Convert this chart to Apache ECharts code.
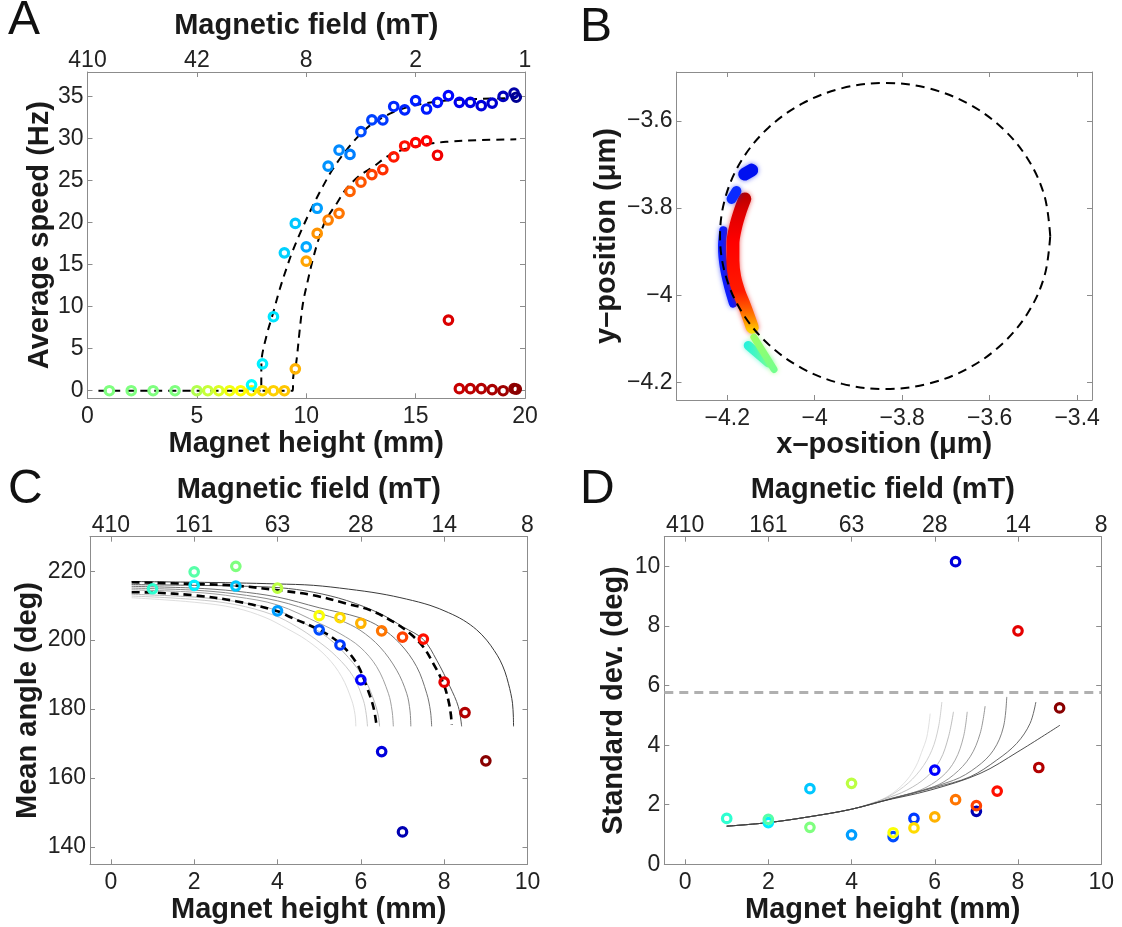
<!DOCTYPE html>
<html>
<head>
<meta charset="utf-8">
<script src="https://cdn.jsdelivr.net/npm/echarts@6.0.0/dist/echarts.min.js"></script>
<style>
html, body { margin: 0; padding: 0; background: #fff; }
#chart { width: 1122px; height: 927px; }
</style>
</head>
<body>
<div id="chart"></div>
<script>
// ---------- A: average speed vs magnet height ----------
var heightA0 = [1, 2, 3, 4, 5, 5.5, 6, 6.5, 7, 7.5, 8, 8.5, 9];
var speedA0 = [0, 0, 0, 0, 0, 0, 0, 0, 0, 0, 0, 0, 0];
var colorA0 = [0.5, 0.5, 0.5, 0.5, 0.55, 0.57, 0.59, 0.61, 0.625, 0.64, 0.66, 0.67, 0.68];

var heightAUp = [7.5, 8, 8.5, 9, 9.5, 10, 10.5, 11, 11.5, 12, 12.5, 13, 13.5, 14, 14.5, 15, 15.5, 16, 16.5, 17, 17.5, 18, 18.5, 19, 19.5, 19.6];
var speedAUp = [0.7, 3.2, 8.8, 16.4, 19.9, 17.1, 21.7, 26.7, 28.6, 28.1, 30.8, 32.2, 32.2, 33.8, 33.4, 34.5, 33.5, 34.3, 35.1, 34.3, 34.3, 33.9, 34.2, 35.0, 35.4, 34.9];
var colorAUp = [0.375, 0.36, 0.35, 0.33, 0.32, 0.29, 0.28, 0.27, 0.26, 0.25, 0.2, 0.19, 0.18, 0.165, 0.16, 0.155, 0.15, 0.14, 0.13, 0.11, 0.1, 0.09, 0.08, 0.06, 0.04, 0.02];

var heightADown = [9.5, 10, 10.5, 11, 11.5, 12, 12.5, 13, 13.5, 14, 14.5, 15, 15.5, 16, 16.5, 17, 17.5, 18, 18.5, 19, 19.5, 19.6];
var speedADown = [2.6, 15.4, 18.7, 20.3, 21.1, 23.7, 24.8, 25.7, 26.3, 27.8, 29.1, 29.5, 29.7, 28.0, 8.4, 0.24, 0.24, 0.24, 0.12, 0, 0.24, 0.2];
var colorADown = [0.7, 0.715, 0.73, 0.75, 0.76, 0.78, 0.79, 0.81, 0.83, 0.85, 0.86, 0.87, 0.875, 0.89, 0.91, 0.93, 0.94, 0.95, 0.96, 0.97, 0.98, 0.99];

var fitSpeedUp = [[0.5, 0], [7.94, 0], [7.95, 3.3], [8.17, 6.4], [8.48, 9.2], [8.78, 12.0], [9.09, 14.5], [9.39, 16.7], [9.85, 19.5], [10.3, 22.0], [10.76, 24.3], [11.2, 26.3], [11.8, 28.5], [12.4, 30.3], [13.05, 31.8], [13.96, 33.1], [14.88, 33.9], [15.5, 34.2], [16.4, 34.5], [17.9, 34.7], [19.6, 34.8]];
var fitSpeedDown = [[8.0, 0], [9.39, 0], [9.4, 1.5], [9.54, 3.3], [9.7, 7.2], [9.85, 10.4], [10.08, 13.2], [10.3, 15.6], [10.6, 18.3], [10.9, 20.3], [11.4, 22.3], [11.8, 23.9], [12.4, 25.5], [13.05, 26.6], [13.8, 28.0], [14.6, 28.8], [15.5, 29.3], [16.4, 29.6], [17.9, 29.8], [19.6, 29.9]];

var fieldTicksA = [0, 5, 10, 15, 20];
var fieldLabelsA = ['410', '42', '8', '2', '1'];

// ---------- B: bead positions ----------
var circleB = [[-3.4615, -3.864], [-3.4744, -3.7732], [-3.5121, -3.6885], [-3.5721, -3.6158], [-3.6502, -3.56], [-3.7413, -3.525], [-3.839, -3.513], [-3.9367, -3.525], [-4.0278, -3.56], [-4.1059, -3.6158], [-4.1659, -3.6885], [-4.2036, -3.7732], [-4.2165, -3.864], [-4.2036, -3.9548], [-4.1659, -4.0395], [-4.1059, -4.1122], [-4.0278, -4.168], [-3.9367, -4.203], [-3.839, -4.215], [-3.7413, -4.203], [-3.6502, -4.168], [-3.5721, -4.1122], [-3.5121, -4.0395], [-3.4744, -3.9548], [-3.4615, -3.864]];
var bluePathB = [[-4.209, -3.851], [-4.212, -3.890], [-4.208, -3.935], [-4.198, -3.981], [-4.187, -4.019]];
var redPathB = [[-4.160, -3.779], [-4.171, -3.809], [-4.181, -3.844], [-4.187, -3.882], [-4.187, -3.920], [-4.183, -3.958], [-4.173, -3.993], [-4.161, -4.023], [-4.151, -4.050], [-4.143, -4.073]];
var blueBlobTopB = [[-4.160, -3.722], [-4.144, -3.713]];
var blueBlobMidB = [[-4.190, -3.779], [-4.179, -3.761]];
var greenPathB = [[-4.139, -4.096], [-4.093, -4.170]];
var cyanPathB = [[-4.152, -4.115], [-4.106, -4.155]];

// ---------- C / D: mean angle and spread ----------
var heightCD = [1, 2, 2, 3, 3, 4, 4, 5, 5, 5.5, 5.5, 6, 6, 6.5, 6.5, 7, 7, 7.5, 8, 8.5, 9];
var colorCD = [0.42, 0.36, 0.46, 0.32, 0.5, 0.28, 0.56, 0.2, 0.62, 0.18, 0.66, 0.125, 0.7, 0.09, 0.76, 0.05, 0.81, 0.86, 0.9, 0.95, 0.99];
var angleC = [214.9, 215.9, 219.8, 215.7, 221.4, 208.5, 215.1, 203.0, 207.1, 198.6, 206.5, 188.5, 204.9, 167.7, 202.7, 144.4, 200.9, 200.3, 187.8, 179.0, 165.0];
var sdD = [1.54, 1.40, 1.51, 2.54, 1.24, 0.99, 2.72, 0.93, 1.06, 1.54, 1.22, 3.16, 1.59, 10.16, 2.17, 1.78, 1.97, 2.46, 7.84, 3.25, 5.25];

var modelAngle1 = [[0.5, 212.3], [2, 211.0], [3, 209.3], [3.7, 206.6], [4.22, 203.4], [4.7, 200], [5.18, 195.2], [5.54, 189.4], [5.78, 182.6], [5.86, 178.5], [5.88, 175]];
var modelAngle2 = [[0.5, 212.8], [2, 211.8], [3, 210.3], [3.9, 207.3], [4.46, 203.9], [4.94, 200], [5.42, 195.2], [5.82, 189.4], [6.06, 182.6], [6.13, 178.5], [6.16, 175]];
var modelAngle3 = [[0.5, 213.3], [2, 212.5], [3, 211.2], [4, 208.6], [4.7, 204.5], [5.2, 200.8], [5.7, 195.0], [6.1, 188.5], [6.33, 182.0], [6.42, 178], [6.45, 175]];
var modelAngle4 = [[0.5, 214.6], [2, 213.9], [3, 212.6], [4, 210.2], [5.02, 204.8], [5.5, 201.9], [5.98, 198.0], [6.38, 192.3], [6.66, 184.6], [6.75, 179.5], [6.78, 175]];
var modelAngle5 = [[0.5, 215.1], [2, 214.5], [3, 213.4], [4, 211.4], [5.0, 207.8], [5.5, 205.8], [5.98, 202.9], [6.46, 198.0], [6.86, 191.3], [7.1, 184.6], [7.18, 179.5], [7.2, 175]];
var modelAngle6 = [[0.5, 215.6], [2, 215.1], [3, 214.2], [4, 212.5], [5.0, 209.4], [5.98, 206.5], [6.46, 203.8], [6.94, 199.0], [7.34, 192.3], [7.58, 184.6], [7.67, 179.5], [7.7, 175]];
var modelAngle7 = [[0.5, 216.1], [2, 215.9], [3, 215.7], [4.06, 215.2], [4.86, 213.9], [5.66, 211.5], [6.46, 207.7], [7.02, 203.8], [7.5, 200.2], [7.82, 194.2], [8.14, 186.5], [8.34, 180.7], [8.42, 175]];
var modelAngle8 = [[0.5, 217.0], [2, 216.8], [3, 216.6], [4, 216.3], [4.86, 215.9], [5.7, 214.8], [6.46, 213.5], [7.1, 211.9], [7.66, 210.1], [8.1, 208.0], [8.46, 205.8], [8.78, 203.0], [9.02, 200], [9.2, 197.0], [9.34, 194.2], [9.46, 190.8], [9.54, 187.5], [9.6, 184.5], [9.64, 181.7], [9.66, 178], [9.665, 175]];
var fitAngleLow = [[0.5, 213.9], [1, 213.8], [2, 213.0], [3, 211.3], [4, 208.4], [4.3, 206.7], [5.02, 202.9], [5.5, 199.0], [5.9, 193.3], [6.14, 186.5], [6.3, 180.7], [6.37, 175.9]];
var fitAngleHigh = [[0.5, 216.8], [2, 216.3], [3, 215.8], [4.06, 214.4], [4.86, 213.0], [5.66, 210.6], [6.22, 208.7], [6.78, 205.3], [7.18, 201.9], [7.5, 198.0], [7.74, 193.2], [7.98, 187.5], [8.1, 182.6], [8.16, 178.5], [8.18, 175.4]];

var modelSd1 = [[1, 1.28], [2, 1.4], [3, 1.6], [4, 1.85], [4.6, 2.1], [5.0, 2.4], [5.33, 2.83], [5.55, 3.3], [5.68, 3.75], [5.81, 4.28], [5.89, 5.06]];
var modelSd2 = [[1, 1.28], [2, 1.4], [3, 1.6], [4, 1.85], [4.7, 2.15], [5.25, 2.6], [5.65, 3.16], [5.93, 3.83], [6.09, 4.61], [6.17, 5.45]];
var modelSd3 = [[1, 1.28], [2, 1.4], [3, 1.6], [4, 1.85], [4.8, 2.2], [5.33, 2.49], [5.81, 2.94], [6.13, 3.5], [6.33, 4.28], [6.45, 5.12]];
var modelSd4 = [[1, 1.28], [2, 1.4], [3, 1.6], [4, 1.85], [4.9, 2.2], [5.65, 2.49], [6.17, 2.94], [6.49, 3.5], [6.69, 4.28], [6.78, 5.12]];
var modelSd5 = [[1, 1.28], [2, 1.4], [3, 1.6], [4, 1.85], [5, 2.22], [5.97, 2.6], [6.45, 3.0], [6.85, 3.61], [7.09, 4.39], [7.21, 5.31]];
var modelSd6 = [[1, 1.28], [2, 1.4], [3, 1.6], [4, 1.85], [5, 2.22], [6.45, 2.82], [7.01, 3.27], [7.41, 3.83], [7.65, 4.61], [7.73, 5.62]];
var modelSd7 = [[1, 1.28], [2, 1.4], [3, 1.6], [4, 1.85], [5, 2.22], [6.0, 2.58], [6.85, 2.94], [7.49, 3.5], [7.97, 4.06], [8.29, 4.73], [8.43, 5.45]];
var modelSd8 = [[1, 1.28], [2, 1.4], [3, 1.6], [4, 1.85], [4.68, 2.1], [5.89, 2.49], [7.09, 3.05], [8, 3.78], [9.01, 4.67]];
var sdThreshold = 5.77;

var fieldTicksCD = [0, 2, 4, 6, 8, 10];
var fieldLabelsCD = ['410', '161', '63', '28', '14', '8'];

// ---------- styling helpers ----------
var FONT = 'Liberation Sans';
var GRAY = '#8c8c8c';
var JET = ['#00007f', '#0000ff', '#007fff', '#00ffff', '#7fff7f', '#ffff00', '#ff7f00', '#ff0000', '#7f0000'];
var MODEL_GRAYS = ['#dedede', '#cacaca', '#b5b5b5', '#a0a0a0', '#8a8a8a', '#727272', '#575757', '#3a3a3a'];

function hexRgb(h) {
    return [parseInt(h.substr(1, 2), 16), parseInt(h.substr(3, 2), 16), parseInt(h.substr(5, 2), 16)];
}

function jet(c) {
    var t = Math.max(0, Math.min(1, c)) * 8;
    var i = Math.min(7, Math.floor(t)), f = t - i;
    var a = hexRgb(JET[i]), b = hexRgb(JET[i + 1]);
    return 'rgb(' + [0, 1, 2].map(function (k) { return Math.round(a[k] + (b[k] - a[k]) * f); }).join(',') + ')';
}

function fmt(v) {
    return String(Math.round(v * 10) / 10).replace('-', '\u2212');
}

function labelFor(ticks, labels) {
    return function (v) {
        for (var i = 0; i < ticks.length; i++) if (Math.abs(ticks[i] - v) < 1e-6) return labels[i];
        return '';
    };
}

var tickStyle = {fontFamily: FONT, fontSize: 23, color: '#222'};
var nameStyle = {fontFamily: FONT, fontSize: 29, fontWeight: 'bold', color: '#1a1a1a'};

function baseAxis(g, range, ticks) {
    return {
        gridIndex: g, type: 'value', min: range[0], max: range[1],
        axisLine: {show: true, onZero: false, lineStyle: {color: GRAY, width: 1}},
        axisTick: {show: true, inside: true, length: 5, customValues: ticks, lineStyle: {color: GRAY}},
        splitLine: {show: false}
    };
}

var xAxes = [], yAxes = [];

function addPanel(g, p) {
    var bottom = baseAxis(g, p.xRange, p.xTicks);
    bottom.position = 'bottom';
    bottom.axisLabel = Object.assign({margin: 7, customValues: p.xTicks, formatter: fmt}, tickStyle);
    bottom.name = p.xName; bottom.nameLocation = 'middle'; bottom.nameGap = p.xGap; bottom.nameTextStyle = nameStyle;
    var top = baseAxis(g, p.xRange, p.topTicks || p.xTicks);
    top.position = 'top';
    if (p.topLabels) {
        top.axisLabel = Object.assign({margin: 0, customValues: p.topTicks, formatter: labelFor(p.topTicks, p.topLabels)}, tickStyle);
        top.name = 'Magnetic field (mT)'; top.nameLocation = 'middle'; top.nameGap = p.topGap; top.nameTextStyle = nameStyle;
    } else {
        top.axisLabel = {show: false};
    }
    var left = baseAxis(g, p.yRange, p.yTicks);
    left.position = 'left';
    left.axisLabel = Object.assign({margin: 4, customValues: p.yTicks, formatter: fmt}, tickStyle);
    left.name = p.yName; left.nameLocation = 'middle'; left.nameGap = p.yGap; left.nameRotate = 90; left.nameTextStyle = nameStyle;
    var right = baseAxis(g, p.yRange, p.yTicks);
    right.position = 'right';
    right.axisLabel = {show: false};
    xAxes.push(bottom, top);
    yAxes.push(left, right);
}

addPanel(0, {xRange: [0, 20], xTicks: [0, 5, 10, 15, 20], xName: 'Magnet height (mm)', xGap: 28,
    topTicks: fieldTicksA, topLabels: fieldLabelsA, topGap: 32,
    yRange: [-0.9, 37.9], yTicks: [0, 5, 10, 15, 20, 25, 30, 35], yName: 'Average speed (Hz)', yGap: 32});
addPanel(1, {xRange: [-4.316, -3.366], xTicks: [-4.2, -4, -3.8, -3.6, -3.4], xName: 'x\u2013position (\u03bcm)', xGap: 28,
    yRange: [-4.24, -3.488], yTicks: [-4.2, -4, -3.8, -3.6], yName: 'y\u2013position (\u03bcm)', yGap: 55});
addPanel(2, {xRange: [-0.5, 10], xTicks: [0, 2, 4, 6, 8, 10], xName: 'Magnet height (mm)', xGap: 28,
    topTicks: fieldTicksCD, topLabels: fieldLabelsCD, topGap: 32,
    yRange: [135, 230], yTicks: [140, 160, 180, 200, 220], yName: 'Mean angle (deg)', yGap: 48});
addPanel(3, {xRange: [-0.5, 10], xTicks: [0, 2, 4, 6, 8, 10], xName: 'Magnet height (mm)', xGap: 28,
    topTicks: fieldTicksCD, topLabels: fieldLabelsCD, topGap: 32,
    yRange: [0, 11], yTicks: [0, 2, 4, 6, 8, 10], yName: 'Standard dev. (deg)', yGap: 36});

function rings(g, xs, ys, cs) {
    return {
        type: 'scatter', xAxisIndex: 2 * g, yAxisIndex: 2 * g, symbol: 'circle', symbolSize: 8.5, z: 5,
        itemStyle: {color: 'rgba(0,0,0,0)', borderWidth: 3.2, opacity: 1},
        data: xs.map(function (x, i) {
            return {value: [x, ys[i]], itemStyle: {borderColor: jet(cs[i])}};
        })
    };
}

function curve(g, pts, style, z) {
    return {
        type: 'line', xAxisIndex: 2 * g, yAxisIndex: 2 * g, data: pts, symbol: 'none', showSymbol: false,
        smooth: 0.35, lineStyle: style, z: z || 2
    };
}

// a smeared cloud of positions: a thick stroke with a soft halo of its own colour
function band(pts, color, width, halo) {
    return curve(1, pts, {color: color, width: width, cap: 'round', join: 'round', shadowBlur: 5, shadowColor: halo}, 3);
}

var dashA = {color: '#000', width: 2, type: [8, 6]};
var dashC = {color: '#000', width: 2.6, type: [8, 5]};

var series = [
    curve(0, fitSpeedUp, dashA),
    curve(0, fitSpeedDown, dashA),
    rings(0, heightA0, speedA0, colorA0),
    rings(0, heightAUp, speedAUp, colorAUp),
    rings(0, heightADown, speedADown, colorADown),

    band(bluePathB, '#0a1cff', 8, 'rgba(20,40,255,0.6)'),
    band(redPathB, new echarts.graphic.LinearGradient(0, 0, 0, 1, [
        {offset: 0, color: '#b40000'}, {offset: 0.15, color: '#e00000'}, {offset: 0.35, color: '#ff0000'},
        {offset: 0.7, color: '#ff1a00'}, {offset: 0.82, color: '#ff5a00'}, {offset: 0.92, color: '#ff9a00'},
        {offset: 1, color: '#ffe000'}]), 13, 'rgba(230,0,0,0.6)'),
    band(blueBlobTopB, '#0010f0', 13, 'rgba(0,20,240,0.6)'),
    band(blueBlobMidB, '#0a2aff', 10, 'rgba(10,40,255,0.6)'),
    band(cyanPathB, new echarts.graphic.LinearGradient(0, 0, 1, 1, [
        {offset: 0, color: '#20f0e0'}, {offset: 1, color: '#70ffa0'}]), 9, 'rgba(40,240,200,0.6)'),
    band(greenPathB, new echarts.graphic.LinearGradient(0, 0, 1, 1, [
        {offset: 0, color: '#a0ff60'}, {offset: 1, color: '#70ff90'}]), 7, 'rgba(140,255,100,0.6)'),
    curve(1, circleB, {color: '#000', width: 2, type: [9, 6]}, 4)
];

[modelAngle1, modelAngle2, modelAngle3, modelAngle4, modelAngle5, modelAngle6, modelAngle7, modelAngle8].forEach(function (m, i) {
    series.push(curve(2, m, {color: MODEL_GRAYS[i], width: 1}));
});
series.push(curve(2, fitAngleLow, dashC, 3), curve(2, fitAngleHigh, dashC, 3));
series.push(rings(2, heightCD, angleC, colorCD));

[modelSd1, modelSd2, modelSd3, modelSd4, modelSd5, modelSd6, modelSd7, modelSd8].forEach(function (m, i) {
    series.push(curve(3, m, {color: MODEL_GRAYS[i], width: 0.9}));
});
var sdSeries = rings(3, heightCD, sdD, colorCD);
sdSeries.markLine = {
    silent: true, symbol: 'none', label: {show: false},
    lineStyle: {color: '#b0b0b0', width: 3, type: [9, 6]},
    data: [{yAxis: sdThreshold}]
};
series.push(sdSeries);

function letter(ch, x, y) {
    return {type: 'text', x: x, y: y, style: {text: ch, font: '48px "Liberation Sans"', fill: '#111', verticalAlign: 'top', align: 'left'}};
}

var chart = echarts.init(document.getElementById('chart'), null, {renderer: 'canvas'});
chart.setOption({
    animation: false,
    backgroundColor: '#fff',
    grid: [
        {left: 87.5, top: 72, width: 437.5, height: 326.3, outerBoundsMode: 'none'},
        {left: 676.5, top: 72, width: 415.5, height: 328, outerBoundsMode: 'none'},
        {left: 90, top: 536.7, width: 437.5, height: 327.6, outerBoundsMode: 'none'},
        {left: 664.3, top: 536.7, width: 436.9, height: 327.6, outerBoundsMode: 'none'}
    ],
    xAxis: xAxes,
    yAxis: yAxes,
    series: series,
    graphic: [letter('A', 8, -3), letter('B', 580, 4), letter('C', 8, 466), letter('D', 580, 466)]
});
</script>
</body>
</html>
